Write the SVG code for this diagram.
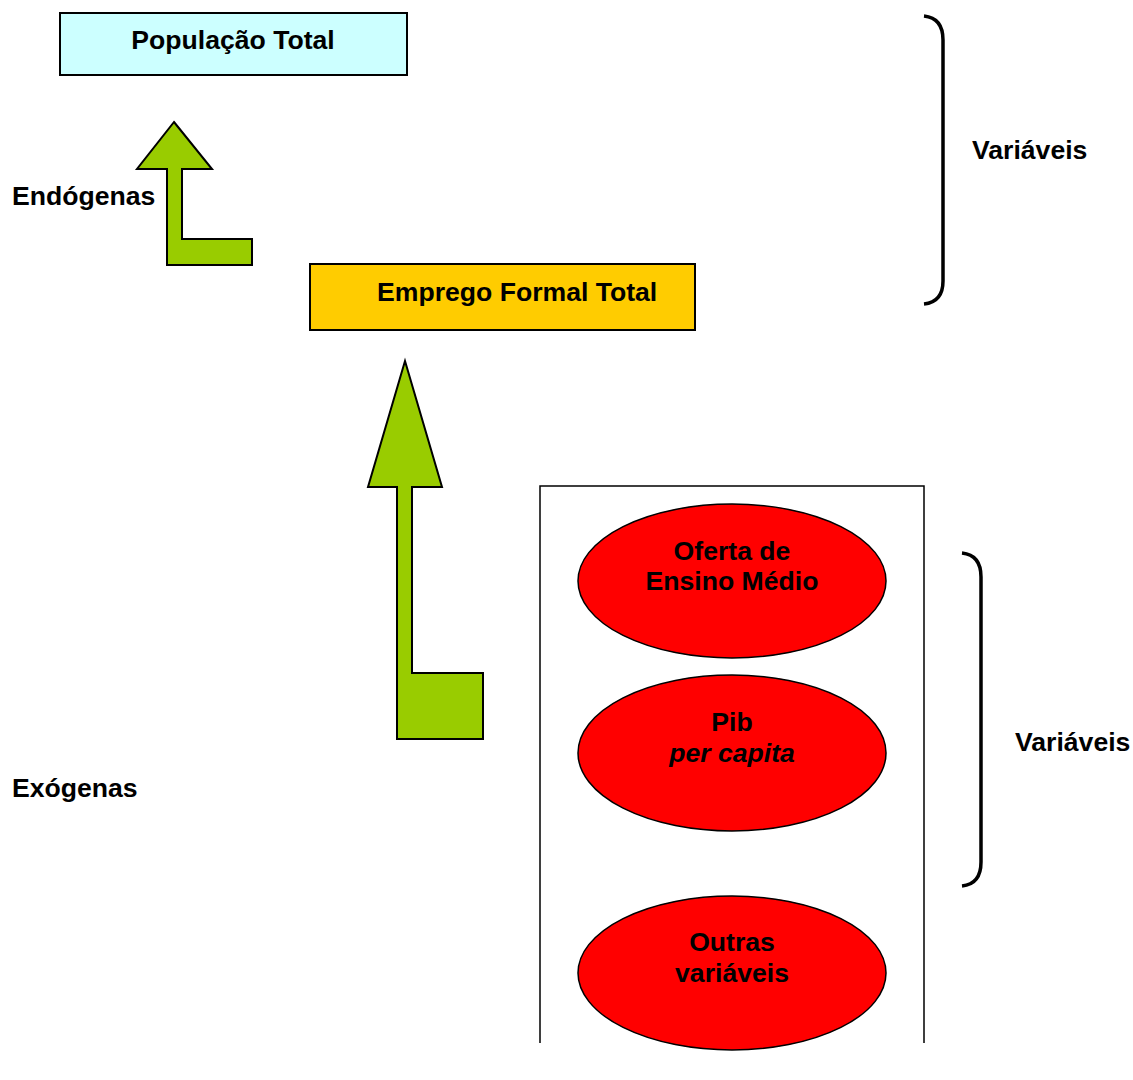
<svg xmlns="http://www.w3.org/2000/svg" width="1133" height="1080" viewBox="0 0 1133 1080">
<style>
text{font-family:"Liberation Sans",Arial,sans-serif;font-weight:bold;font-size:26.6px;fill:#000}
.c{text-anchor:middle}
.box{stroke:#000;stroke-width:2}
.arrow{fill:#99CC00;stroke:#000;stroke-width:2;stroke-linejoin:miter}
.ell{fill:#FF0000;stroke:#000;stroke-width:1.5}
.br{fill:none;stroke:#000;stroke-width:3.5;stroke-linecap:butt}
.frame{fill:none;stroke:#000;stroke-width:1.5}
</style>
<rect width="1133" height="1080" fill="#fff"/>
<g id="populacao">
<rect class="box" x="60" y="13" width="347" height="62" fill="#CCFFFF"/>
<text class="c" x="233" y="49">População Total</text>
</g>
<g id="emprego">
<rect class="box" x="310" y="264" width="385" height="66" fill="#FFCC00"/>
<text x="377" y="301">Emprego Formal Total</text>
</g>
<g id="connectors">
<polygon class="arrow" points="174,122 212,169 182,169 182,239 252,239 252,265 167,265 167,169 137,169"/>
<polygon class="arrow" points="405,361 442,487 412,487 412,673 483,673 483,739 397,739 397,487 368,487"/>
</g>
<g id="frame">
<path class="frame" d="M540,1043 V486 H924 V1043"/>
</g>
<g id="oferta">
<ellipse class="ell" cx="732" cy="581" rx="154" ry="77"/>
<text class="c" x="732" y="560">Oferta de</text>
<text class="c" x="732" y="590">Ensino Médio</text>
</g>
<g id="pib">
<ellipse class="ell" cx="732" cy="753" rx="154" ry="78"/>
<text class="c" x="732" y="731">Pib</text>
<text class="c" x="732" y="762" font-style="italic">per capita</text>
</g>
<g id="outras">
<ellipse class="ell" cx="732" cy="973" rx="154" ry="77"/>
<text class="c" x="732" y="951">Outras</text>
<text class="c" x="732" y="982">variáveis</text>
</g>
<g id="bracket1">
<path class="br" d="M924,16 Q943,18 943,40 V281 Q943,302 924,304"/>
<text x="972" y="159">Variáveis</text>
</g>
<g id="bracket2">
<path class="br" d="M962,553 Q981,555 981,577 V862 Q981,884 962,886"/>
<text x="1015" y="751">Variáveis</text>
</g>
<g id="labels">
<text x="12" y="205">Endógenas</text>
<text x="12" y="797">Exógenas</text>
</g>
</svg>
